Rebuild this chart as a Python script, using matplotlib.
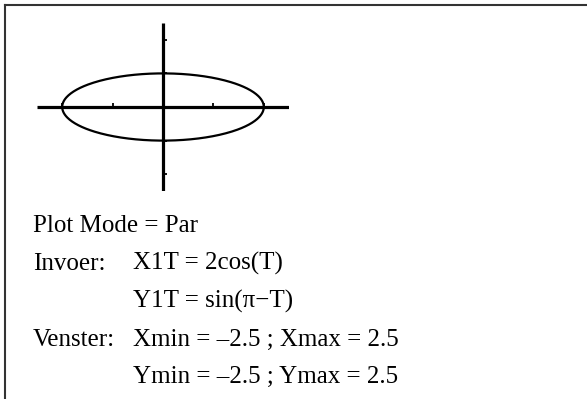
import numpy as np
import matplotlib
matplotlib.use("Agg")
import matplotlib.pyplot as plt
from matplotlib.lines import Line2D

# --- data (from the calculator window shown) ---
x_amp = 2.0          # X1T = 2cos(T)
y_amp = 1.0          # Y1T = sin(pi - T)
window = [-2.5, 2.5, -2.5, 2.5]   # Xmin, Xmax, Ymin, Ymax
x_ticks = [-2, -1, 1, 2]
y_ticks = [-2, -1, 1, 2]
lines_col1 = ["Plot Mode = Par", "Invoer:", "", "Venster:", ""]
lines_col2 = ["", "X1T = 2cos(T)", "Y1T = sin(\u03c0\u2212T)",
              "Xmin = \u20132.5 ; Xmax = 2.5", "Ymin = \u20132.5 ; Ymax = 2.5"]

T = np.linspace(0, 2 * np.pi, 400)
X = x_amp * np.cos(T)
Y = y_amp * np.sin(np.pi - T)

W, H = 587, 399
fig = plt.figure(figsize=(W / 100, H / 100), dpi=100)
fig.patch.set_facecolor("white")

def fx(px):
    return px / W

def fy(py):
    return 1 - py / H

# border (top and left)
fig.add_artist(Line2D([fx(5), fx(587)], [fy(4.5), fy(4.5)], color="#333333", lw=1.5,
                      transform=fig.transFigure))
fig.add_artist(Line2D([fx(5), fx(5)], [fy(4.5), fy(399)], color="#333333", lw=1.5,
                      transform=fig.transFigure))

# graph axes: x -2.5..2.5 -> px 37..289, y -2.5..2.5 -> px 191..23
ax = fig.add_axes([fx(37), fy(191), (289 - 37) / W, (191 - 23) / H])
ax.set_xlim(window[0], window[1])
ax.set_ylim(window[2], window[3])
ax.axis("off")
ax.axhline(0, color="black", lw=2.3, solid_capstyle="butt")
ax.axvline(0, color="black", lw=2.3, solid_capstyle="butt")
ax.plot(X, Y, color="black", lw=1.6)

# ticks: x ticks upward, y ticks to the right
for xt in x_ticks:
    ax.plot([xt, xt], [0, 0.12], color="black", lw=1.3, solid_capstyle="butt")
for yt in y_ticks:
    ax.plot([0, 0.07], [yt, yt], color="black", lw=1.3, solid_capstyle="butt")

# text
baselines = [232, 270, 308, 346, 383]
font = dict(family="Liberation Serif", fontsize=18, color="black", va="baseline", ha="left")
for b, t1, t2 in zip(baselines, lines_col1, lines_col2):
    if t1:
        fig.text(fx(33), fy(b), t1, **font)
    if t2:
        fig.text(fx(133), fy(b), t2, **font)

fig.savefig("out.png", dpi=100)
